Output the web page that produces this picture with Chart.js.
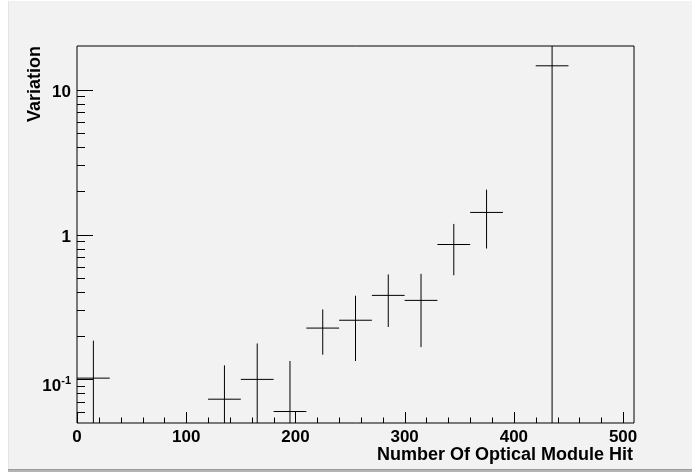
<!DOCTYPE html>
<html>
<head>
<meta charset="utf-8">
<script src="https://cdn.jsdelivr.net/npm/chart.js@4/dist/chart.umd.min.js"></script>
<style>
  html, body { margin: 0; padding: 0; background: #ffffff; }
  #wrap { width: 692px; height: 472px; }
</style>
</head>
<body>
<div id="wrap"><canvas id="c" width="692" height="472"></canvas></div>
<script>
// Histogram: variation per bin of the number of optical modules hit
const binCenters = [15, 135, 165, 195, 225, 255, 285, 315, 345, 375, 435];
const binValues  = [0.102, 0.073, 0.100, 0.060, 0.226, 0.256, 0.380, 0.351, 0.853, 1.42, 14.6];
const binErrors  = [0.083, 0.052, 0.077, 0.074, 0.078, 0.122, 0.150, 0.184, 0.330, 0.62, 14.6];
const binHalfWidth = 15;

const xRange = [0, 510];
const yRange = [0.05, 20];

const xMajorTicks = [0, 100, 200, 300, 400, 500];
const xMinorTicks = [20, 40, 60, 80, 120, 140, 160, 180, 220, 240, 260, 280,
                     320, 340, 360, 380, 420, 440, 460, 480];
const xTickLabels = ['0', '100', '200', '300', '400', '500'];

const yMajorTicks = [0.1, 1, 10];
const yTickBase   = ['10', '1', '10'];
const yTickExp    = ['-1', '', ''];
const yMinorTicks = [0.06, 0.07, 0.08, 0.09, 0.2, 0.3, 0.4, 0.5, 0.6, 0.7, 0.8, 0.9,
                     2, 3, 4, 5, 6, 7, 8, 9];

const xTitle = 'Number Of Optical Module Hit';
const yTitle = 'Variation';

// Build segment lists (null entries break the line between bins)
const horizSegments = [];
const vertSegments = [];
binCenters.forEach((c, i) => {
  const v = binValues[i], e = binErrors[i];
  horizSegments.push({x: c - binHalfWidth, y: v}, {x: c + binHalfWidth, y: v}, {x: c, y: null});
  vertSegments.push({x: c, y: Math.max(v - e, 1e-6)}, {x: c, y: v + e}, {x: c, y: null});
});

const FONT = 'bold 17px "Liberation Sans", Arial, Helvetica, sans-serif';

const framePlugin = {
  id: 'rootFrame',
  beforeDraw(chart) {
    const ctx = chart.ctx;
    ctx.save();
    ctx.fillStyle = '#ffffff';
    ctx.fillRect(0, 0, chart.width, chart.height);
    ctx.fillStyle = '#f2f2f2';
    ctx.fillRect(9, 1, chart.width - 9, 468);
    ctx.fillStyle = '#e4e4e4';
    ctx.fillRect(8, 1, 1, 468);
    ctx.fillStyle = '#9c9c9c';
    ctx.fillRect(8, 469, chart.width - 8, 1);
    ctx.fillStyle = '#b4b4b4';
    ctx.fillRect(8, 470, chart.width - 8, 2);
    ctx.restore();
  },
  afterDraw(chart) {
    const ctx = chart.ctx;
    const xs = chart.scales.x, ys = chart.scales.y;
    const a = chart.chartArea;
    const L = Math.round(a.left), R = Math.round(a.right);
    const T = Math.round(a.top), B = Math.round(a.bottom);
    ctx.save();
    ctx.strokeStyle = '#000';
    ctx.lineWidth = 1;
    ctx.beginPath();
    ctx.rect(L, T, R - L, B - T);
    ctx.stroke();

    // x ticks, drawn inward from the bottom axis
    ctx.beginPath();
    xMajorTicks.forEach(v => {
      const px = Math.round(xs.getPixelForValue(v)) + 0.5;
      ctx.moveTo(px, B); ctx.lineTo(px, B - 11);
    });
    xMinorTicks.forEach(v => {
      const px = Math.round(xs.getPixelForValue(v)) + 0.5;
      ctx.moveTo(px, B); ctx.lineTo(px, B - 5.5);
    });
    // y ticks, drawn inward from the left axis
    yMajorTicks.forEach(v => {
      const py = Math.round(ys.getPixelForValue(v)) + 0.5;
      ctx.moveTo(L, py); ctx.lineTo(L + 16, py);
    });
    yMinorTicks.forEach(v => {
      const py = Math.round(ys.getPixelForValue(v)) + 0.5;
      ctx.moveTo(L, py); ctx.lineTo(L + 8, py);
    });
    ctx.stroke();

    // tick labels
    ctx.fillStyle = '#000';
    ctx.font = FONT;
    ctx.textBaseline = 'alphabetic';
    ctx.textAlign = 'center';
    xMajorTicks.forEach((v, i) => {
      ctx.fillText(xTickLabels[i], xs.getPixelForValue(v), B + 19);
    });

    const labelRight = L - 6;
    yMajorTicks.forEach((v, i) => {
      const py = ys.getPixelForValue(v);
      if (yTickExp[i]) {
        ctx.font = 'bold 11px "Liberation Sans", Arial, sans-serif';
        const ew = ctx.measureText(yTickExp[i]).width;
        ctx.textAlign = 'right';
        ctx.fillText(yTickExp[i], labelRight, py + 5);
        ctx.font = FONT;
        ctx.fillText(yTickBase[i], labelRight - ew, py + 12);
      } else {
        ctx.font = FONT;
        ctx.textAlign = 'right';
        ctx.fillText(yTickBase[i], labelRight, py + 7);
      }
    });

    // axis titles
    ctx.font = 'bold 18px "Liberation Sans", Arial, sans-serif';
    ctx.textAlign = 'right';
    ctx.fillText(xTitle, R - 1, B + 37);
    ctx.save();
    ctx.translate(L - 37, T);
    ctx.rotate(-Math.PI / 2);
    ctx.textAlign = 'right';
    ctx.fillText(yTitle, 0, 0);
    ctx.restore();
    ctx.restore();
  }
};

new Chart(document.getElementById('c'), {
  type: 'scatter',
  data: {
    datasets: [
      {
        label: 'bin width',
        data: horizSegments,
        showLine: true,
        spanGaps: false,
        borderColor: '#000',
        borderWidth: 1,
        pointRadius: 0,
        pointHoverRadius: 0
      },
      {
        label: 'error',
        data: vertSegments,
        showLine: true,
        spanGaps: false,
        borderColor: '#000',
        borderWidth: 1,
        pointRadius: 0,
        pointHoverRadius: 0
      }
    ]
  },
  options: {
    responsive: false,
    animation: false,
    events: [],
    layout: { padding: { left: 77, top: 46, right: 58, bottom: 49 } },
    plugins: { legend: { display: false }, tooltip: { enabled: false } },
    scales: {
      x: { type: 'linear', min: xRange[0], max: xRange[1], display: false },
      y: { type: 'logarithmic', min: yRange[0], max: yRange[1], display: false }
    }
  },
  plugins: [framePlugin]
});
</script>
</body>
</html>
